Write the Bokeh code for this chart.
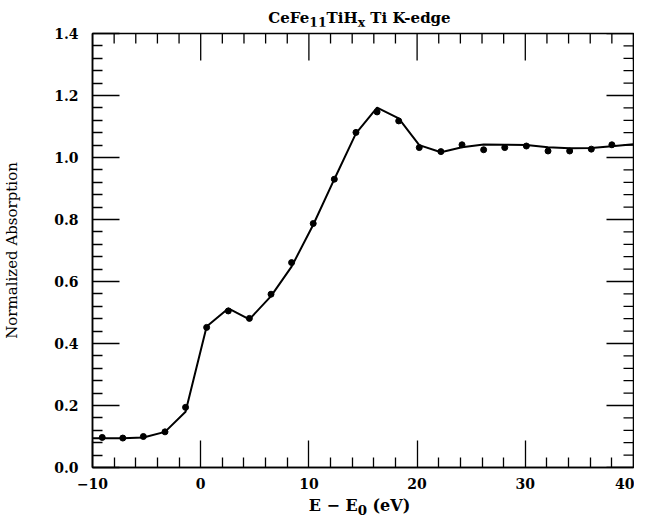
import math
from bokeh.plotting import figure
from bokeh.layouts import column
from bokeh.models import FixedTicker, PrintfTickFormatter, Range1d, ColumnDataSource, Div
from bokeh.embed import file_html
from bokeh.resources import INLINE

# measured points (E - E0 in eV, normalized absorption)
energy = [-9.1, -7.2, -5.3, -3.3, -1.4, 0.55, 2.55, 4.5, 6.5, 8.4, 10.4, 12.35,
          14.35, 16.3, 18.3, 20.2, 22.2, 24.15, 26.15, 28.1, 30.1, 32.1, 34.1, 36.1, 38.0]
absorption = [0.097, 0.095, 0.100, 0.115, 0.194, 0.452, 0.505, 0.481, 0.559, 0.661,
              0.787, 0.930, 1.081, 1.147, 1.118, 1.032, 1.019, 1.041, 1.025, 1.032,
              1.037, 1.021, 1.021, 1.027, 1.041]

# calculated curve
fit_energy = [-10.0, -9.1, -7.2, -5.3, -3.3, -1.4, 0.55, 2.55, 4.5, 6.5, 8.4, 10.4,
              12.35, 14.35, 16.3, 18.3, 20.2, 22.2, 24.15, 26.15, 28.1, 30.1, 32.1,
              34.1, 36.1, 38.0, 40.0]
fit_absorption = [0.094, 0.094, 0.094, 0.097, 0.115, 0.180, 0.455, 0.513, 0.478,
                  0.553, 0.648, 0.783, 0.930, 1.078, 1.161, 1.126, 1.040, 1.017,
                  1.033, 1.042, 1.041, 1.040, 1.033, 1.030, 1.031, 1.036, 1.043]

x_major = [-10, 0, 10, 20, 30, 40]
x_minor = [-8, -6, -4, -2, 2, 4, 6, 8, 12, 14, 16, 18, 22, 24, 26, 28, 32, 34, 36, 38]
y_major = [0.0, 0.2, 0.4, 0.6, 0.8, 1.0, 1.2, 1.4]
y_minor = [0.04, 0.08, 0.12, 0.16, 0.24, 0.28, 0.32, 0.36, 0.44, 0.48, 0.52, 0.56,
           0.64, 0.68, 0.72, 0.76, 0.84, 0.88, 0.92, 0.96, 1.04, 1.08, 1.12, 1.16,
           1.24, 1.28, 1.32, 1.36]

title_html = "CeFe<sub>11</sub>TiH<sub>x</sub> Ti K-edge"
xlabel_html = "E &minus; E<sub>0</sub> (eV)"
y_label = "Normalized Absorption"

X0, X1 = -10, 40
Y0, Y1 = 0.0, 1.4
SERIF = "DejaVu Serif"
MAJ, MIN = 27, 10
LEFT, FW, FH = 89, 541, 434

p = figure(frame_width=FW, frame_height=FH, output_backend="svg", toolbar_location=None,
           x_range=Range1d(X0, X1), y_range=Range1d(Y0, Y1),
           min_border_left=LEFT, min_border_right=1, min_border_top=7, min_border_bottom=26)
p.background_fill_color = "white"
p.border_fill_color = "white"
p.outline_line_color = "black"
p.outline_line_width = 1.5
p.xgrid.visible = False
p.ygrid.visible = False

for ax, ticker in ((p.xaxis[0], FixedTicker(ticks=x_major, minor_ticks=x_minor)),
                   (p.yaxis[0], FixedTicker(ticks=y_major, minor_ticks=y_minor))):
    ax.ticker = ticker
    ax.axis_line_color = "black"
    ax.axis_line_width = 1.5
    ax.major_tick_line_color = "black"
    ax.minor_tick_line_color = "black"
    ax.major_tick_line_width = 1.3
    ax.minor_tick_line_width = 1.3
    ax.major_tick_in = MAJ
    ax.major_tick_out = 0
    ax.minor_tick_in = MIN
    ax.minor_tick_out = 0
    ax.major_label_text_font = SERIF
    ax.major_label_text_font_style = "bold"
    ax.major_label_text_font_size = "14px"
    ax.major_label_text_color = "black"
    ax.axis_label_text_color = "black"
    ax.axis_label_text_font = SERIF

xa = p.xaxis[0]
xa.major_label_standoff = 10

ya = p.yaxis[0]
ya.formatter = PrintfTickFormatter(format="%.1f")
ya.major_label_standoff = 14
ya.axis_label = y_label
ya.axis_label_text_font_style = "normal"
ya.axis_label_text_font_size = "15px"
ya.axis_label_standoff = 30

# mirrored inward ticks on the top and right frame edges
top_major = ColumnDataSource(dict(x=x_major, y=[Y1] * len(x_major)))
top_minor = ColumnDataSource(dict(x=x_minor, y=[Y1] * len(x_minor)))
right_major = ColumnDataSource(dict(x=[X1] * len(y_major), y=y_major))
right_minor = ColumnDataSource(dict(x=[X1] * len(y_minor), y=y_minor))
for src, ln, ang in ((top_major, MAJ, -math.pi / 2), (top_minor, MIN, -math.pi / 2),
                     (right_major, MAJ, math.pi), (right_minor, MIN, math.pi)):
    p.ray("x", "y", source=src, length=ln, length_units="screen", angle=ang,
          line_color="black", line_width=1.3)

fit_src = ColumnDataSource(dict(x=fit_energy, y=fit_absorption))
pts_src = ColumnDataSource(dict(x=energy, y=absorption))
p.line("x", "y", source=fit_src, line_color="black", line_width=2)
p.scatter("x", "y", source=pts_src, marker="circle", size=6, fill_color="black",
          line_color="black", line_width=1)


def text_div(html, height, pad_top, size):
    inner = (f'<div style="display:block;width:{FW}px;padding-top:{pad_top}px;'
             f'text-align:center;font-family:\'{SERIF}\';'
             f'font-weight:bold;font-size:{size}px;line-height:{size + 2}px;color:black;'
             f'white-space:nowrap;">{html}</div>')
    return Div(text=inner, width=FW, height=height, margin=(0, 0, 0, LEFT))


title_div = text_div(title_html, 26, 10, 15)
xlabel_div = text_div(xlabel_html, 20, 4, 16)

layout = column(title_div, p, xlabel_div, spacing=0)

open("out.html", "w").write(file_html(layout, INLINE))
